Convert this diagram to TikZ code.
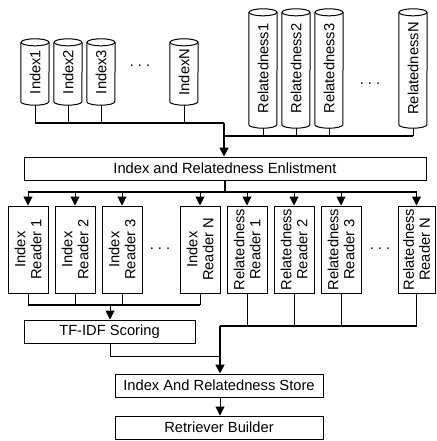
\documentclass[tikz,border=0pt]{standalone}
\usepackage{fontspec}
\setmainfont{Liberation Sans}
\usetikzlibrary{arrows.meta}

\begin{document}
\begin{tikzpicture}[x=1pt,y=1pt,
  every node/.style={font=\fontsize{14.7}{16}\selectfont},
  db/.style={rectangle, rotate=90, minimum height=28pt, inner sep=0pt},
  box/.style={draw, line width=1pt, rectangle, minimum height=23pt, inner sep=0pt},
  reader/.style={draw, line width=1pt, rectangle, rotate=90, align=center,
    minimum width=87pt, minimum height=40pt, inner sep=0pt},
  stub/.style={line width=1pt},
  bus/.style={line width=1.7pt},
  tip/.style={-{Triangle[length=9pt,width=9pt]}},
  gap/.style={inner sep=0pt}
]
\useasboundingbox (0,0) rectangle (436,-441);

% index and relatedness stores (text holders; outlines drawn below)
\node[db, minimum width=66pt] (i1) at (35,-72) {Index1};
\node[db, minimum width=66pt] (i2) at (68,-72) {Index2};
\node[db, minimum width=66pt] (i3) at (101,-72) {Index3};
\node[db, minimum width=66pt] (in) at (184,-72) {IndexN};
\node[gap] (idots) at (140,-66) {.\hspace{4pt}.\hspace{4pt}.};

\node[db, minimum width=119pt] (r1) at (263,-68.5) {Relatedness1};
\node[db, minimum width=119pt] (r2) at (296,-68.5) {Relatedness2};
\node[db, minimum width=119pt] (r3) at (329,-68.5) {Relatedness3};
\node[db, minimum width=119pt] (rn) at (413,-68.5) {RelatednessN};
\node[gap] (rdots) at (370,-84) {.\hspace{4pt}.\hspace{4pt}.};

% cylinder outlines around the store nodes
\foreach \n in {i1,i2,i3,in,r1,r2,r3,rn} {
  \draw[line width=1pt]
    ([yshift=-3.5pt]\n.north east) -- ([yshift=3.5pt]\n.north west)
    arc[start angle=180, end angle=360, x radius=14pt, y radius=3.5pt]
    -- ([yshift=-3.5pt]\n.south east);
  \draw[line width=1pt] ([yshift=-3.5pt]\n.east) ellipse[x radius=14pt, y radius=3.5pt];
}

% enlistment
\node[box, minimum width=402pt] (enl) at (225,-168.5) {Index and Relatedness Enlistment};

% readers
\node[reader] (ir1) at (28,-249.5) {Index\\Reader 1};
\node[reader] (ir2) at (75,-249.5) {Index\\Reader 2};
\node[reader] (ir3) at (122,-249.5) {Index\\Reader 3};
\node[reader] (irn) at (200,-249.5) {Index\\Reader N};
\node[gap] (irdots) at (160,-249) {.\hspace{4pt}.\hspace{4pt}.};

\node[reader] (rr1) at (247,-249.5) {Relatedness\\Reader 1};
\node[reader] (rr2) at (294,-249.5) {Relatedness\\Reader 2};
\node[reader] (rr3) at (341,-249.5) {Relatedness\\Reader 3};
\node[reader, minimum height=37pt] (rrn) at (416.5,-249.5) {Relatedness\\Reader N};
\node[gap] (rrdots) at (380,-249) {.\hspace{4pt}.\hspace{4pt}.};

% scoring, store, builder
\node[box, minimum width=171pt] (tfidf) at (109.5,-331.5) {TF-IDF Scoring};
\node[box, minimum width=208pt] (store) at (219,-385.5) {Index And Relatedness Store};
\node[box, minimum width=208pt] (build) at (219,-427.5) {Retriever Builder};

% bus junctions
\coordinate (ibus) at (224,-123);
\coordinate (rbus) at (224,-136);
\coordinate (dbus) at (225,-192);
\coordinate (ibus2) at (110,-305);
\coordinate (rbus2) at (220,-326);
\coordinate (tbend) at (220,-356);

% stores into enlistment
\foreach \n in {i1,i2,i3,in} \draw[stub] (\n.west) -- (\n.west |- ibus);
\foreach \n in {r1,r2,r3,rn} \draw[stub] (\n.west) -- (\n.west |- rbus);
\draw[bus] (i1.west |- ibus) -- (ibus);
\draw[bus] (rn.west |- rbus) -- (rbus);
\draw[bus, tip] (ibus) -- (enl.north -| ibus);

% enlistment out to readers
\draw[bus] (enl.south -| dbus) -- (dbus);
\draw[bus] (ir1.east |- dbus) -- (rrn.east |- dbus);
\foreach \n in {ir1,ir2,ir3,irn,rr1,rr2,rr3,rrn}
  \draw[stub, tip] (\n.east |- dbus) -- (\n.east);

% index readers into scoring
\foreach \n in {ir1,ir2,ir3,irn} \draw[stub] (\n.west) -- (\n.west |- ibus2);
\draw[bus] (ir1.west |- ibus2) -- (irn.west |- ibus2);
\draw[stub, tip] (ibus2) -- (tfidf.north -| ibus2);

% relatedness readers and scoring into store
\foreach \n in {rr1,rr2,rr3,rrn} \draw[stub] (\n.west) -- (\n.west |- rbus2);
\draw[bus] (rrn.west |- rbus2) -- (rbus2);
\draw[stub] (tfidf.south -| ibus2) |- (tbend);
\draw[bus, tip] (rbus2) -- (store.north -| rbus2);

% store to builder
\draw[stub, tip] (store.south -| rbus2) -- (build.north -| rbus2);
\end{tikzpicture}
\end{document}
